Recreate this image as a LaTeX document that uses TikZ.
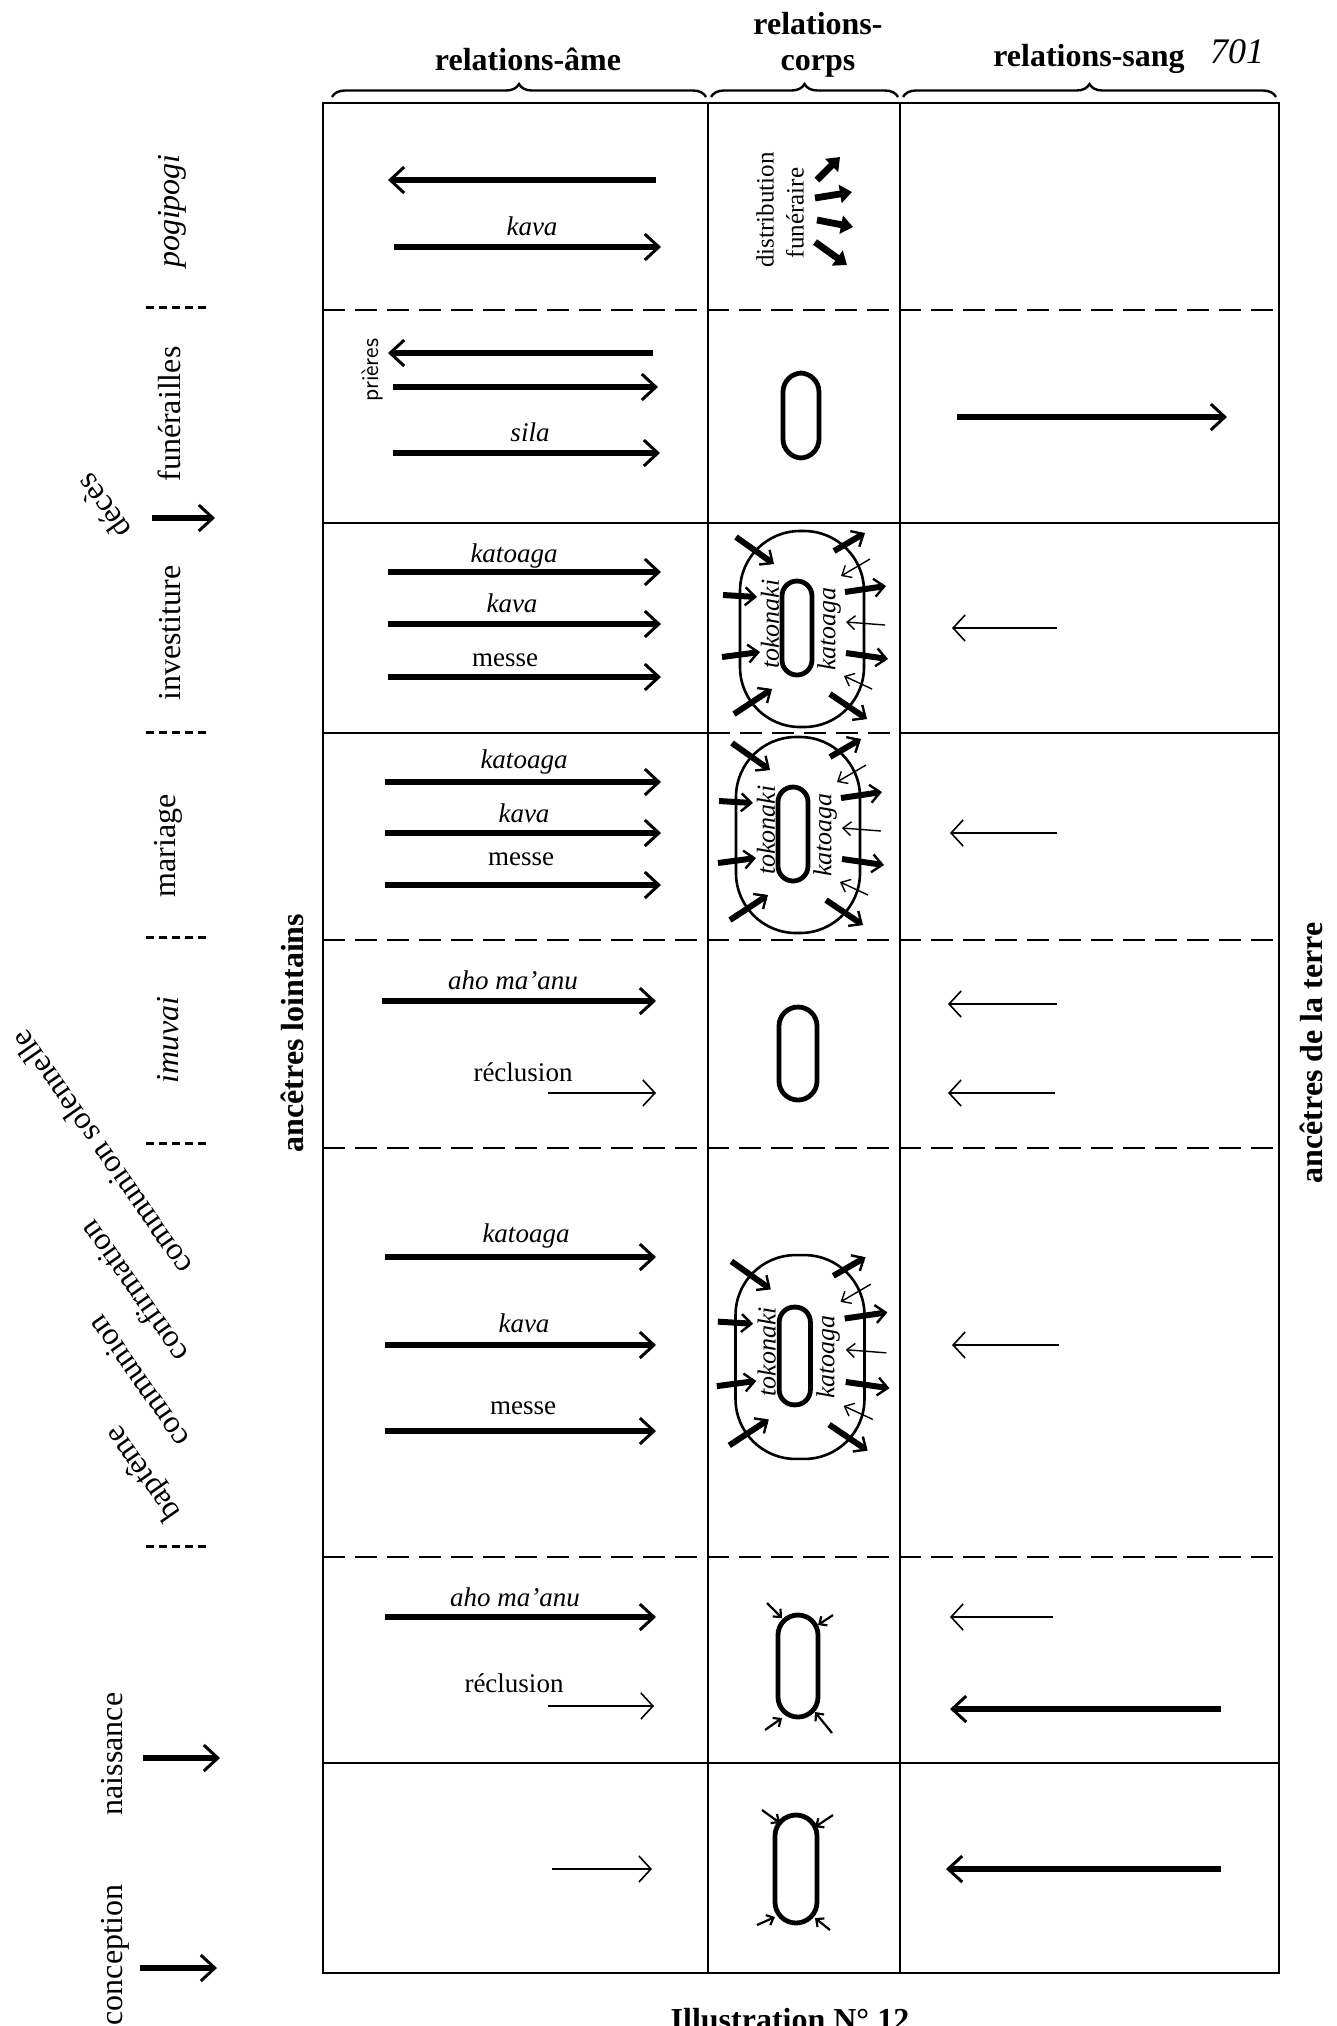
\documentclass[tikz,border=0pt]{standalone}
\usepackage{fontspec}
\setmainfont{Liberation Serif}
\usetikzlibrary{arrows.meta,decorations.pathreplacing}

\begin{document}
\begin{tikzpicture}[x=0.5pt, y=-0.5pt]
    \tikzset{cadre/.style={line width=1.4pt},
        tiret/.style={line width=1.2pt, dash pattern=on 11pt off 5pt},
        marque/.style={line width=1.5pt, dash pattern=on 4pt off 2.5pt},
        accol/.style={line width=1.2pt, decorate, decoration={brace, amplitude=6.5pt}},
        titre/.style={font=\bfseries\fontsize{16}{18}\selectfont, align=center},
        rite/.style={rotate=90, font=\fontsize{16}{17}\selectfont},
        penche/.style={rotate=125, inner sep=0pt, font=\fontsize{16}{17}\selectfont},
        mot/.style={font=\fontsize{13.5}{14}\selectfont},
        itmot/.style={font=\itshape\fontsize{13.5}{14}\selectfont},
        motif/.style={font=\itshape\fontsize{13}{14}\selectfont, rotate=90, inner sep=0pt},
        fort/.style={line width=3.2pt, -{Straight Barb[length=7pt, width=13pt, line width=1.5pt]}},
        fin/.style={line width=0.8pt, -{Straight Barb[length=6pt, width=13pt]}},
        bref/.style={line width=3pt, -{Straight Barb[length=5pt, width=9pt, line width=1.2pt]}},
        leger/.style={line width=0.7pt, -{Straight Barb[length=4pt, width=7pt]}},
        pointe/.style={line width=1.1pt, -{Straight Barb[length=3pt, width=5.5pt]}},
        don/.style={line width=3.4pt, -{Triangle[length=6pt, width=9pt]}},
        zero/.style={line width=2.4pt, rounded corners=9.5pt},
        echange/.pic={
            \draw[line width=1.3pt, rounded corners=30pt] (-62,-98) rectangle (62,98);
            \draw[zero, rounded corners=7.5pt] (-20,-48) rectangle (10,46);
            \node[motif] (-tok) at (-32,-5) {tokonaki};
            \node[motif] (-kat) at (27,0) {katoaga};
            \foreach \a/\b/\c/\d in {-66/-92/-28/-65, -79/-34/-45/-32, -80/28/-42/23, -68/85/-30/60,
                    32/-78/63/-96, 43/-37/84/-43, 44/24/86/30, 28/65/65/90}
                \draw[bref] (\a,\b) -- (\c,\d);
            \foreach \a/\b/\c/\d in {68/-70/39/-53, 83/-4/44/-7, 70/60/42/47}
                \draw[leger] (\a,\b) -- (\c,\d);
        }}
    \useasboundingbox (0,0) rectangle (1337,2026);

    % en-tetes
    \node[titre] (ame) at (528,59) {relations-âme};
    \node[titre] (corps) at (818,45) {relations-\\corps};
    \node[titre] (sang) at (1089,59) {relations-sang};
    \node[font=\itshape\fontsize{18}{18}\selectfont] (page) at (1237,52) {701};
    \draw[accol] (332,97) -- (706,97);
    \draw[accol] (711,97) -- (898,97);
    \draw[accol] (903,97) -- (1276,97);

    % tableau
    \draw[cadre] (323,103) rectangle (1279,1973);
    \draw[cadre] (708,103) -- (708,1973);
    \draw[cadre] (900,103) -- (900,1973);
    \draw[tiret] (323,310) -- (1279,310);
    \draw[cadre] (323,523) -- (1279,523);
    \draw[cadre] (323,733) -- (708,733);
    \draw[tiret] (708,733) -- (900,733);
    \draw[cadre] (900,733) -- (1279,733);
    \draw[tiret] (323,940) -- (1279,940);
    \draw[tiret] (323,1148) -- (1279,1148);
    \draw[tiret] (323,1557) -- (1279,1557);
    \draw[cadre] (323,1763) -- (1279,1763);

    \node[titre, rotate=90] (lointains) at (292,1033) {ancêtres lointains};
    \node[titre, rotate=90] (terre) at (1311,1053) {ancêtres de la terre};

    % rites
    \node[rite, font=\itshape\fontsize{16}{17}\selectfont] (pogi) at (172,211) {pogipogi};
    \node[rite] (fun) at (169,414) {funérailles};
    \node[penche] (deces) at (103,507) {décès};
    \node[rite] (inv) at (170,633) {investiture};
    \node[rite] (mar) at (168,846) {mariage};
    \node[rite, font=\itshape\fontsize{16}{17}\selectfont] (imu) at (168,1040) {imuvai};
    \node[penche] (comsol) at (101,1153) {communion solennelle};
    \node[penche] (conf) at (133,1292) {confirmation};
    \node[penche] (com) at (138,1382) {communion};
    \node[penche] (bapt) at (144,1473) {baptême};
    \node[rite] (nais) at (112,1754) {naissance};
    \node[rite] (conc) at (115,1955) {conception};
    \foreach \yy in {307,732,937,1143,1546}
        \draw[marque] (146,\yy) -- (209,\yy);
    \draw[fort] (152,518) -- (215,518);
    \draw[fort] (143,1758) -- (220,1758);
    \draw[fort] (140,1968) -- (217,1968);

    % relations-ame
    \draw[fort] (656,180) -- (388,180);
    \node[itmot] (kava1) at (532,226) {kava};
    \draw[fort] (394,247) -- (661,247);
    \node[rotate=90, font=\sffamily\fontsize{12}{13}\selectfont] (prieres) at (372,370) {prières};
    \draw[fort] (653,353) -- (388,353);
    \draw[fort] (393,387) -- (658,387);
    \node[itmot] (sila) at (530,432) {sila};
    \draw[fort] (393,453) -- (660,453);
    \node[itmot] (kat3) at (514,556) {katoaga};
    \draw[fort] (388,572) -- (661,572);
    \node[itmot] (kava3) at (512,603) {kava};
    \draw[fort] (388,624) -- (661,624);
    \node[mot] (messe3) at (505,660) {messe};
    \draw[fort] (388,677) -- (661,677);
    \node[itmot] (kat4) at (524,762) {katoaga};
    \draw[fort] (385,782) -- (661,782);
    \node[itmot] (kava4) at (524,813) {kava};
    \draw[fort] (385,833) -- (661,833);
    \node[mot] (messe4) at (521,859) {messe};
    \draw[fort] (385,885) -- (661,885);
    \node[itmot] (aho5) at (513,980) {aho ma'anu};
    \draw[fort] (382,1001) -- (656,1001);
    \node[mot] (recl5) at (523,1072) {réclusion};
    \draw[fin] (548,1093) -- (656,1093);
    \node[itmot] (kat6) at (526,1236) {katoaga};
    \draw[fort] (385,1257) -- (656,1257);
    \node[itmot] (kava6) at (524,1323) {kava};
    \draw[fort] (385,1345) -- (656,1345);
    \node[mot] (messe6) at (523,1408) {messe};
    \draw[fort] (385,1431) -- (656,1431);
    \node[itmot] (aho7) at (515,1597) {aho ma'anu};
    \draw[fort] (385,1617) -- (656,1617);
    \node[mot] (recl7) at (514,1683) {réclusion};
    \draw[fin] (548,1706) -- (654,1706);
    \draw[fin] (552,1869) -- (652,1869);

    % relations-corps
    \node[rotate=90, font=\fontsize{12.5}{13}\selectfont] (distr) at (765,210) {distribution};
    \node[rotate=90, font=\fontsize{12.5}{13}\selectfont] (funer) at (795,213) {funéraire};
    \draw[don] (817,180) -- (840,157);
    \draw[don] (815,198) -- (852,192);
    \draw[don] (817,220) -- (853,227);
    \draw[don] (815,242) -- (847,265);
    \draw[zero] (783,373) rectangle (819,458);
    \pic (invx) at (802,629) {echange};
    \pic (marx) at (798,835) {echange};
    \draw[zero] (779,1007) rectangle (817,1100);
    \pic[scale=1.04] (bapx) at (800,1357) {echange};
    \draw[zero, rounded corners=10pt] (778,1615) rectangle (818,1717);
    \draw[pointe] (767,1603) -- (782,1618);
    \draw[pointe] (833,1615) -- (818,1625);
    \draw[pointe] (765,1730) -- (782,1718);
    \draw[pointe] (832,1733) -- (815,1712);
    \draw[zero, rounded corners=10.5pt] (775,1815) rectangle (817,1923);
    \draw[pointe] (762,1810) -- (780,1823);
    \draw[pointe] (833,1815) -- (815,1827);
    \draw[pointe] (757,1925) -- (775,1917);
    \draw[pointe] (830,1930) -- (815,1918);

    % relations-sang
    \draw[fort] (957,417) -- (1227,417);
    \draw[fin] (1057,628) -- (952,628);
    \draw[fin] (1057,833) -- (950,833);
    \draw[fin] (1057,1004) -- (948,1004);
    \draw[fin] (1055,1093) -- (948,1093);
    \draw[fin] (1059,1345) -- (952,1345);
    \draw[fin] (1053,1617) -- (950,1617);
    \draw[fort] (1221,1709) -- (950,1709);
    \draw[fort] (1221,1869) -- (946,1869);

    \node[titre, anchor=base] (illus) at (790,2030) {Illustration N° 12};
\end{tikzpicture}
\end{document}
